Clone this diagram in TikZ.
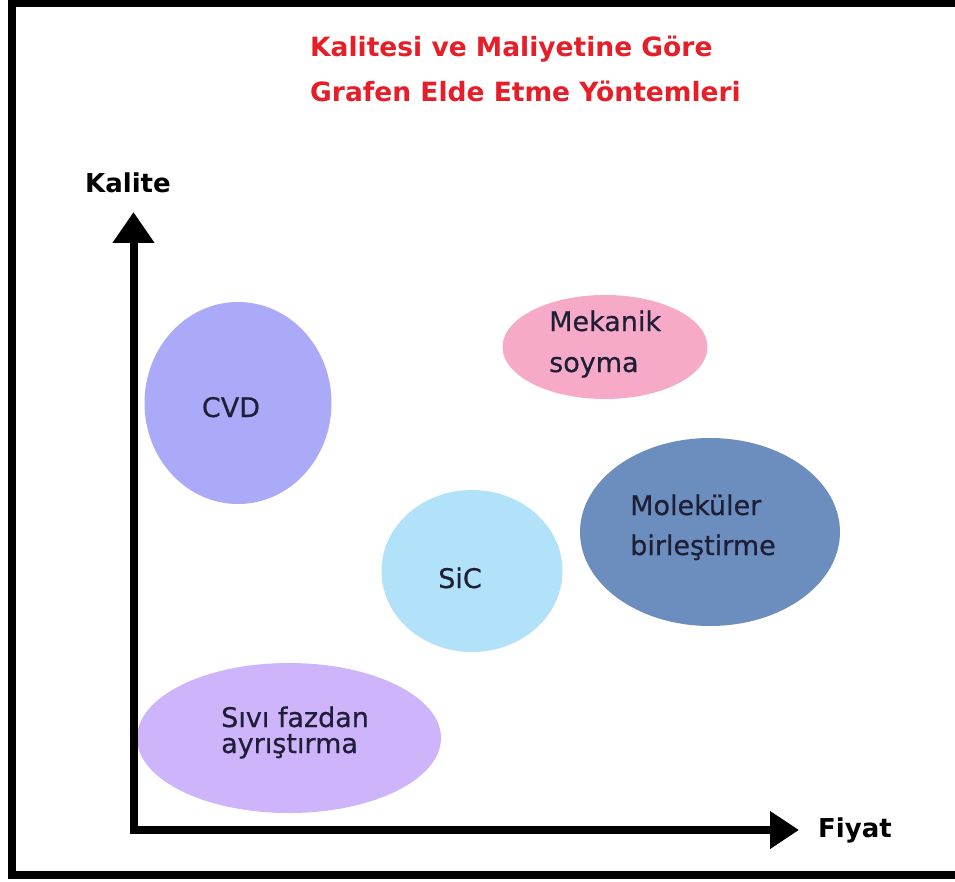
\documentclass[tikz,border=0pt]{standalone}
\usepackage{fontspec}
\setmainfont{DejaVu Sans}
\newfontfamily\lblfont[FakeBold=0.6]{DejaVu Sans}
\usetikzlibrary{shapes.geometric,arrows.meta}
\definecolor{titlered}{RGB}{230,30,40}
\definecolor{labelink}{RGB}{30,30,55}
\definecolor{cvdcol}{RGB}{170,170,248}
\definecolor{mekcol}{RGB}{247,170,200}
\definecolor{molcol}{RGB}{108,142,190}
\definecolor{siccol}{RGB}{178,226,250}
\definecolor{sivicol}{RGB}{206,180,250}
\tikzset{
  blob/.style={ellipse, draw=none, inner sep=0pt},
  lbl/.style={anchor=base west, inner sep=0pt, text=labelink, font=\lblfont\fontsize{27}{27}\selectfont},
  clbl/.style={anchor=base, inner sep=0pt, text=labelink, font=\lblfont\fontsize{27}{27}\selectfont},
  ttl/.style={anchor=base west, inner sep=0pt, text=titlered, font=\bfseries\fontsize{26.5}{26.5}\selectfont},
  axlbl/.style={inner sep=0pt, text=black, font=\bfseries\fontsize{26}{26}\selectfont},
  axisline/.style={line width=8pt, line join=miter, {Triangle[length=31pt,width=40pt]}-{Triangle[length=29pt,width=36pt]}}
}
\begin{document}
\begin{tikzpicture}[x=1pt,y=-1pt]
\useasboundingbox (0,0) rectangle (955,882);
\clip (0,0) rectangle (955,882);
\fill[white] (0,0) rectangle (955,882);
% frame
\draw[line width=8pt] (11.5,3.5) rectangle (975,875);
% title
\node[ttl] (t1) at (310,57) {Kalitesi ve Maliyetine Göre};
\node[ttl] (t2) at (310,102) {Grafen Elde Etme Yöntemleri};
% blobs
\node[blob, fill=cvdcol, minimum width=187pt, minimum height=202pt] (cvd) at (238,403) {};
\node[blob, fill=mekcol, minimum width=205pt, minimum height=104pt] (mek) at (605,347) {};
\node[blob, fill=molcol, minimum width=260pt, minimum height=188pt] (mol) at (710,532) {};
\node[blob, fill=siccol, minimum width=181pt, minimum height=162pt] (sic) at (472,571) {};
\node[blob, fill=sivicol, minimum width=304pt, minimum height=150pt] (sivi) at (289,738) {};
% labels
\node[clbl] (cvdt) at (231,417) {CVD};
\node[lbl] (mek1) at (549,331) {Mekanik};
\node[lbl] (mek2) at (549,372) {soyma};
\node[lbl] (mol1) at (630,515) {Moleküler};
\node[lbl] (mol2) at (630,555) {birleştirme};
\node[clbl] (sict) at (460,588) {SiC};
\node[lbl] (siv1) at (221,727) {Sıvı fazdan};
\node[lbl] (siv2) at (221,753) {ayrıştırma};
% axes
\coordinate (O) at (133.5,830);
\coordinate (ytip) at (133.5,212);
\coordinate (xtip) at (799,830);
\draw[axisline] (ytip) -- (O) -- (xtip);
\node[axlbl] (kal) at (128,183) {Kalite};
\node[axlbl] (fiy) at (855,830) {Fiyat};
\end{tikzpicture}
\end{document}
